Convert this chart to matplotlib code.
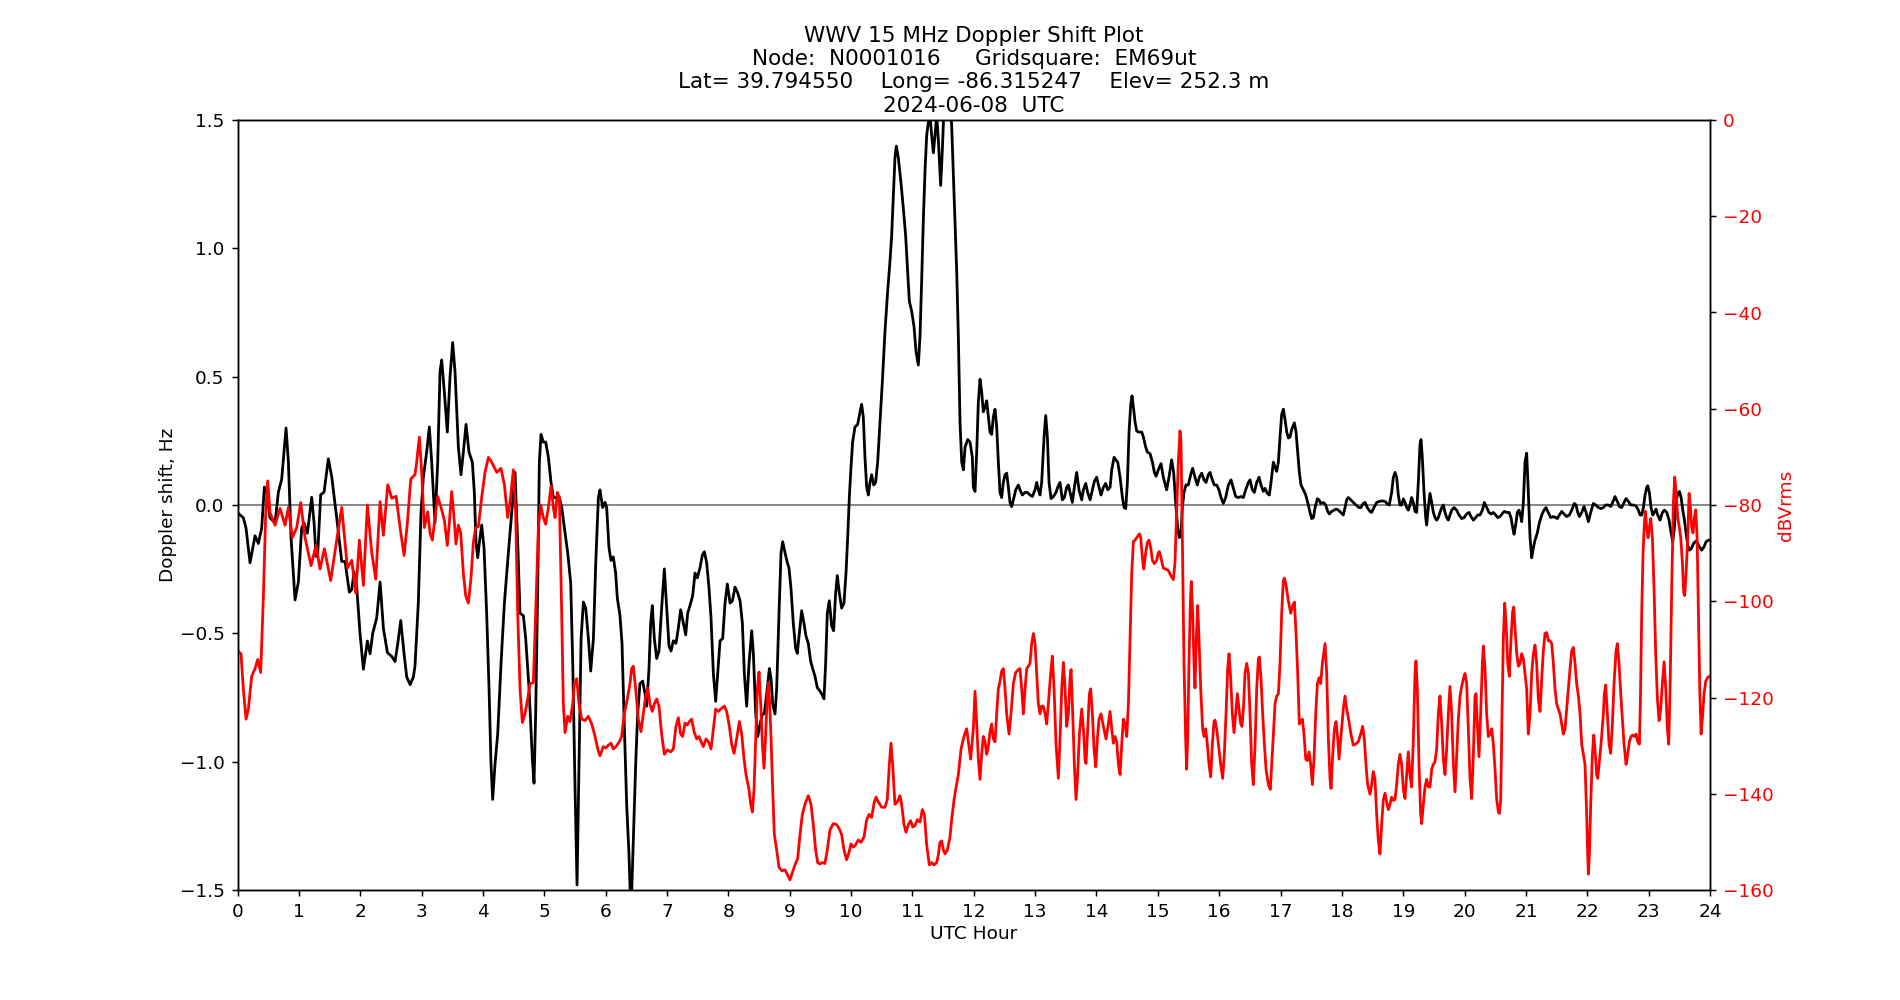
import matplotlib
matplotlib.use('Agg')
import matplotlib.pyplot as plt

# Doppler shift (UTC hour, Hz)
doppler = [
    (0.00, -0.03), (0.095, -0.05), (0.139, -0.09), (0.204, -0.225), (0.286, -0.12), (0.340, -0.15), (0.394, -0.09), (0.438, 0.07), (0.476, 0.05), (0.530, -0.05),
    (0.612, -0.07), (0.666, 0.05), (0.720, 0.10), (0.791, 0.30), (0.829, 0.17), (0.873, -0.13), (0.938, -0.37), (0.992, -0.30), (1.046, -0.09), (1.084, -0.07),
    (1.139, -0.11), (1.209, 0.03), (1.248, -0.07), (1.280, -0.20), (1.307, -0.19), (1.356, 0.04), (1.411, 0.05), (1.481, 0.18), (1.536, 0.11), (1.617, -0.05),
    (1.699, -0.22), (1.753, -0.22), (1.823, -0.34), (1.862, -0.33), (1.900, -0.26), (1.943, -0.32), (1.997, -0.50), (2.052, -0.64), (2.117, -0.53), (2.161, -0.58),
    (2.204, -0.50), (2.269, -0.44), (2.324, -0.30), (2.378, -0.48), (2.443, -0.575), (2.514, -0.59), (2.568, -0.61), (2.612, -0.54), (2.661, -0.45), (2.715, -0.58),
    (2.758, -0.67), (2.813, -0.70), (2.867, -0.67),
    (2.893, -0.627), (2.947, -0.382), (2.991, -0.029), (3.029, 0.108), (3.083, 0.206), (3.127, 0.304), (3.165, 0.167), (3.219, -0.069), (3.263, 0.167), (3.301, 0.520),
    (3.328, 0.565), (3.371, 0.441), (3.420, 0.284), (3.464, 0.500), (3.507, 0.633), (3.545, 0.520), (3.600, 0.225), (3.643, 0.118), (3.681, 0.206), (3.725, 0.314),
    (3.773, 0.206), (3.828, 0.167), (3.860, 0.049), (3.888, -0.147), (3.915, -0.206), (3.942, -0.147), (3.980, -0.078), (4.018, -0.167), (4.061, -0.422), (4.100, -0.716),
    (4.132, -1.010), (4.159, -1.147), (4.197, -1.010), (4.241, -0.892), (4.295, -0.618), (4.350, -0.382), (4.415, -0.186), (4.469, -0.029), (4.523, 0.127), (4.567, -0.147),
    (4.605, -0.422), (4.659, -0.431), (4.697, -0.520), (4.752, -0.716), (4.806, -0.990), (4.833, -1.084), (4.860, -0.814), (4.893, -0.324), (4.920, 0.167), (4.947, 0.275),
    (4.985, 0.245), (5.023, 0.245), (5.067, 0.186), (5.110, 0.088), (5.148, 0.029), (5.203, 0.029), (5.246, 0.029), (5.284, -0.010), (5.339, -0.108), (5.382, -0.186),
    (5.431, -0.304), (5.464, -0.618), (5.502, -1.108), (5.534, -1.480), (5.567, -1.010), (5.600, -0.520), (5.638, -0.378), (5.676, -0.402), (5.719, -0.520), (5.757, -0.647),
    (5.801, -0.520), (5.839, -0.225), (5.882, 0.029),
    (5.908, 0.059), (5.951, -0.010), (5.990, 0.010), (6.017, -0.010), (6.055, -0.167), (6.087, -0.216), (6.125, -0.202), (6.163, -0.265), (6.191, -0.363), (6.234, -0.431),
    (6.267, -0.539), (6.299, -0.814), (6.343, -1.167), (6.381, -1.363), (6.413, -1.60), (6.451, -1.304), (6.490, -1.010), (6.522, -0.814), (6.560, -0.696), (6.604, -0.686),
    (6.642, -0.735), (6.669, -0.784), (6.707, -0.637), (6.734, -0.461), (6.761, -0.392), (6.794, -0.520), (6.832, -0.598), (6.870, -0.569), (6.913, -0.402), (6.957, -0.249),
    (6.995, -0.402), (7.033, -0.549), (7.066, -0.569), (7.104, -0.529), (7.147, -0.539), (7.185, -0.480), (7.223, -0.408), (7.267, -0.461), (7.305, -0.506), (7.337, -0.422),
    (7.375, -0.392), (7.419, -0.353), (7.457, -0.265), (7.495, -0.284), (7.538, -0.245), (7.576, -0.196), (7.609, -0.182), (7.647, -0.225), (7.685, -0.324), (7.718, -0.441),
    (7.756, -0.657), (7.794, -0.765), (7.826, -0.657), (7.865, -0.529), (7.908, -0.520), (7.946, -0.382), (7.984, -0.308), (8.028, -0.382), (8.066, -0.373), (8.109, -0.320),
    (8.153, -0.343), (8.191, -0.373), (8.229, -0.461), (8.261, -0.657), (8.299, -0.784), (8.337, -0.618), (8.381, -0.490), (8.408, -0.578), (8.446, -0.814), (8.479, -0.902),
    (8.517, -0.853), (8.555, -0.814), (8.587, -0.814), (8.625, -0.735), (8.669, -0.637), (8.696, -0.676), (8.723, -0.775), (8.761, -0.814), (8.788, -0.716), (8.826, -0.422),
    (8.859, -0.186), (8.886, -0.143), (8.924, -0.186), (8.962, -0.225),
    (8.988, -0.245), (9.021, -0.324), (9.059, -0.461), (9.097, -0.559), (9.124, -0.578), (9.157, -0.500), (9.195, -0.412), (9.233, -0.461), (9.265, -0.510), (9.303, -0.539),
    (9.341, -0.608), (9.374, -0.637), (9.412, -0.667), (9.450, -0.712), (9.494, -0.725), (9.532, -0.741), (9.559, -0.755), (9.586, -0.618), (9.613, -0.422), (9.646, -0.373),
    (9.684, -0.471), (9.716, -0.490), (9.749, -0.343), (9.776, -0.275), (9.809, -0.343), (9.847, -0.402), (9.885, -0.382), (9.918, -0.265), (9.945, -0.127), (9.972, 0.029),
    (9.999, 0.147), (10.026, 0.245), (10.064, 0.304), (10.108, 0.314), (10.146, 0.363), (10.173, 0.392), (10.200, 0.343), (10.227, 0.186), (10.255, 0.069), (10.282, 0.039),
    (10.309, 0.088), (10.336, 0.118), (10.369, 0.078), (10.401, 0.088), (10.434, 0.167), (10.472, 0.324), (10.510, 0.480), (10.553, 0.676), (10.597, 0.833), (10.635, 0.951),
    (10.662, 1.049), (10.689, 1.206), (10.716, 1.353), (10.738, 1.398), (10.771, 1.353), (10.814, 1.255), (10.852, 1.157), (10.890, 1.049), (10.923, 0.912), (10.950, 0.794),
    (10.988, 0.755), (11.026, 0.696), (11.059, 0.598), (11.097, 0.545), (11.124, 0.657), (11.151, 0.873), (11.178, 1.108), (11.206, 1.304), (11.233, 1.441), (11.260, 1.490),
    (11.287, 1.52), (11.314, 1.441), (11.342, 1.372), (11.369, 1.441), (11.396, 1.52), (11.423, 1.422), (11.461, 1.245), (11.488, 1.382), (11.510, 1.52), (11.532, 1.56),
    (11.613, 1.56), (11.640, 1.480), (11.668, 1.284), (11.695, 1.088), (11.722, 0.912), (11.749, 0.657), (11.776, 0.324), (11.804, 0.167), (11.831, 0.137), (11.858, 0.225),
    (11.901, 0.255), (11.939, 0.245), (11.977, 0.186),
    (11.993, 0.069), (12.021, 0.053), (12.048, 0.206), (12.075, 0.402), (12.102, 0.490), (12.129, 0.441), (12.156, 0.363), (12.184, 0.382), (12.211, 0.406), (12.238, 0.343),
    (12.265, 0.284), (12.292, 0.275), (12.319, 0.343), (12.347, 0.373), (12.374, 0.304), (12.401, 0.167), (12.428, 0.049), (12.455, 0.029), (12.482, 0.088), (12.510, 0.118),
    (12.537, 0.124), (12.564, 0.069), (12.591, 0.010), (12.618, -0.006), (12.646, 0.020), (12.684, 0.059), (12.727, 0.078), (12.754, 0.059), (12.792, 0.039), (12.836, 0.049),
    (12.874, 0.049), (12.917, 0.039), (12.955, 0.033), (12.999, 0.059), (13.026, 0.088), (13.053, 0.059), (13.080, 0.039), (13.107, 0.088), (13.146, 0.265), (13.173, 0.349),
    (13.200, 0.265), (13.227, 0.088), (13.260, 0.025), (13.298, 0.033), (13.341, 0.049), (13.368, 0.069), (13.406, 0.088), (13.444, 0.020), (13.477, 0.029), (13.515, 0.069),
    (13.542, 0.078), (13.569, 0.049), (13.607, 0.010), (13.640, 0.069), (13.678, 0.127), (13.716, 0.059), (13.760, 0.020), (13.787, 0.059), (13.825, 0.084), (13.857, 0.049),
    (13.896, 0.020), (13.934, 0.059), (13.966, 0.092), (14.004, 0.108), (14.042, 0.069), (14.075, 0.039), (14.113, 0.069), (14.151, 0.084), (14.184, 0.059), (14.222, 0.069),
    (14.249, 0.137), (14.287, 0.186), (14.314, 0.176), (14.347, 0.167), (14.385, 0.108), (14.423, 0.029), (14.450, -0.010), (14.477, -0.014), (14.504, 0.088), (14.531, 0.284),
    (14.559, 0.392), (14.580, 0.425), (14.602, 0.382), (14.629, 0.324), (14.656, 0.288), (14.694, 0.284), (14.738, 0.284), (14.765, 0.265), (14.803, 0.225), (14.830, 0.206),
    (14.874, 0.200), (14.912, 0.167), (14.944, 0.127), (14.972, 0.112),
    (15.008, 0.137), (15.052, 0.161), (15.090, 0.108), (15.144, 0.059), (15.182, 0.108), (15.226, 0.176), (15.258, 0.127), (15.291, 0.010), (15.324, -0.088), (15.351, -0.127),
    (15.378, -0.108), (15.400, -0.010), (15.427, 0.049), (15.459, 0.078), (15.497, 0.078), (15.536, 0.118), (15.568, 0.143), (15.606, 0.108), (15.644, 0.078), (15.677, 0.108),
    (15.715, 0.124), (15.753, 0.098), (15.786, 0.088), (15.824, 0.118), (15.851, 0.127), (15.889, 0.098), (15.921, 0.078), (15.959, 0.078), (15.997, 0.059), (16.030, 0.029),
    (16.068, 0.006), (16.106, 0.029), (16.150, 0.078), (16.193, 0.098), (16.231, 0.065), (16.269, 0.033), (16.313, 0.029), (16.356, 0.033), (16.394, 0.029), (16.432, 0.059),
    (16.476, 0.088), (16.503, 0.098), (16.541, 0.059), (16.574, 0.049), (16.612, 0.088), (16.650, 0.108), (16.682, 0.078), (16.720, 0.053), (16.747, 0.065), (16.786, 0.045),
    (16.818, 0.039), (16.845, 0.088), (16.883, 0.167), (16.911, 0.147), (16.938, 0.131), (16.965, 0.167), (16.992, 0.265), (17.019, 0.353), (17.046, 0.373), (17.074, 0.333),
    (17.101, 0.284), (17.128, 0.261), (17.155, 0.265), (17.182, 0.294), (17.226, 0.320), (17.253, 0.284), (17.280, 0.206), (17.307, 0.127), (17.334, 0.078), (17.373, 0.059),
    (17.411, 0.039), (17.443, 0.010), (17.481, -0.029), (17.508, -0.053), (17.536, -0.049), (17.563, -0.010), (17.601, 0.024), (17.628, 0.020), (17.655, 0.006), (17.699, 0.010),
    (17.737, 0.000), (17.769, -0.025), (17.796, -0.035), (17.834, -0.025), (17.873, -0.020), (17.905, -0.016), (17.943, -0.020), (17.981, -0.029),
    (18.023, -0.039), (18.051, -0.010), (18.078, 0.020), (18.105, 0.029), (18.143, 0.020), (18.186, 0.010), (18.230, 0.000), (18.279, -0.010), (18.311, -0.010), (18.349, 0.006),
    (18.377, 0.010), (18.415, -0.010), (18.458, -0.025), (18.485, -0.029), (18.523, -0.010), (18.567, 0.010), (18.610, 0.014), (18.659, 0.016), (18.703, 0.014), (18.741, 0.004),
    (18.773, 0.000), (18.811, 0.049), (18.839, 0.108), (18.866, 0.127), (18.893, 0.108), (18.920, 0.039), (18.947, 0.000), (18.974, 0.000), (19.002, 0.024), (19.029, 0.010),
    (19.056, -0.010), (19.083, -0.020), (19.110, 0.000), (19.137, 0.029), (19.165, 0.010), (19.192, -0.025), (19.219, -0.029), (19.246, 0.088), (19.273, 0.235), (19.290, 0.255),
    (19.311, 0.186), (19.339, 0.049), (19.366, -0.049), (19.382, -0.078), (19.409, -0.010), (19.436, 0.045), (19.464, 0.010), (19.491, -0.029), (19.518, -0.049), (19.545, -0.059),
    (19.572, -0.049), (19.599, -0.029), (19.627, -0.010), (19.654, 0.000), (19.681, -0.029), (19.708, -0.049), (19.735, -0.059), (19.762, -0.039), (19.790, -0.020), (19.828, -0.010),
    (19.871, -0.020), (19.909, -0.039), (19.953, -0.053), (19.991, -0.049), (20.034, -0.035), (20.072, -0.029), (20.105, -0.045), (20.143, -0.059), (20.181, -0.049), (20.214, -0.039),
    (20.252, -0.039), (20.290, -0.020), (20.322, 0.010), (20.360, -0.010), (20.398, -0.029), (20.431, -0.035), (20.469, -0.029), (20.507, -0.039), (20.540, -0.049), (20.578, -0.045),
    (20.616, -0.033), (20.648, -0.025), (20.686, -0.029), (20.725, -0.029), (20.757, -0.049), (20.784, -0.088), (20.806, -0.114), (20.833, -0.078), (20.860, -0.029), (20.887, -0.020),
    (20.915, -0.045), (20.931, -0.065), (20.958, 0.010),
    (20.985, 0.167), (21.012, 0.202), (21.039, 0.049), (21.067, -0.127), (21.094, -0.206), (21.121, -0.167), (21.148, -0.137), (21.186, -0.108), (21.219, -0.069), (21.257, -0.039),
    (21.295, -0.020), (21.327, -0.010), (21.365, -0.029), (21.403, -0.049), (21.447, -0.045), (21.485, -0.049), (21.512, -0.053), (21.545, -0.039), (21.583, -0.025), (21.621, -0.035),
    (21.664, -0.045), (21.708, -0.039), (21.746, -0.020), (21.789, 0.006), (21.817, 0.000), (21.844, -0.029), (21.871, -0.045), (21.909, -0.029), (21.947, -0.006), (21.980, -0.029),
    (22.018, -0.065), (22.056, -0.029), (22.099, 0.006), (22.137, 0.000), (22.181, -0.010), (22.224, -0.014), (22.262, -0.010), (22.300, 0.000), (22.344, 0.000), (22.382, -0.006),
    (22.414, 0.010), (22.452, 0.033), (22.490, 0.014), (22.523, -0.006), (22.561, -0.010), (22.599, 0.010), (22.632, 0.025), (22.670, 0.014), (22.708, 0.000), (22.751, 0.000),
    (22.795, -0.004), (22.833, -0.020), (22.860, -0.039), (22.887, -0.039), (22.914, -0.010), (22.942, 0.039), (22.969, 0.069), (22.985, 0.075), (23.012, 0.049), (23.039, -0.010),
    (23.067, -0.039), (23.094, -0.029), (23.121, -0.016), (23.148, -0.039), (23.186, -0.059), (23.224, -0.029), (23.257, -0.020), (23.295, -0.029), (23.333, -0.059), (23.365, -0.108),
    (23.393, -0.143), (23.420, -0.088), (23.447, 0.010), (23.474, 0.045), (23.501, 0.053), (23.529, 0.029), (23.556, -0.020), (23.583, -0.059), (23.610, -0.108), (23.637, -0.157),
    (23.664, -0.176), (23.692, -0.171), (23.730, -0.151), (23.768, -0.141), (23.795, -0.147), (23.827, -0.163), (23.865, -0.176), (23.903, -0.163), (23.936, -0.143), (23.974, -0.137),
    (24.0, -0.137),
]

# received level (UTC hour, dBVrms)
level = [
    (0.00, -110.3), (0.057, -110.9), (0.095, -118.2), (0.139, -124.5), (0.177, -122.4), (0.231, -115.6), (0.286, -114.0), (0.329, -112.1), (0.378, -114.8), (0.421, -99.4),
    (0.460, -81.6), (0.492, -75.0), (0.530, -81.6), (0.612, -84.2), (0.693, -80.7), (0.775, -84.2), (0.829, -80.5), (0.894, -86.8), (0.965, -84.7), (1.030, -79.5),
    (1.101, -86.8), (1.199, -92.6), (1.280, -88.4), (1.345, -93.3), (1.416, -89.1), (1.519, -95.7), (1.617, -87.3), (1.699, -80.5), (1.791, -93.1), (1.862, -91.5),
    (1.927, -98.3), (1.987, -87.3), (2.052, -96.7), (2.117, -80.0), (2.188, -89.9), (2.253, -95.4), (2.324, -79.3), (2.378, -86.3), (2.449, -75.8), (2.514, -78.6),
    (2.585, -78.2), (2.650, -84.7), (2.715, -90.5), (2.769, -83.7), (2.824, -74.6),
    (2.893, -73.7), (2.920, -71.1), (2.964, -65.9), (3.002, -73.2), (3.045, -84.7), (3.100, -81.4), (3.138, -85.8), (3.176, -87.3), (3.219, -82.6), (3.263, -78.2),
    (3.317, -80.5), (3.371, -83.1), (3.420, -88.4), (3.453, -83.7), (3.491, -77.2), (3.529, -82.6), (3.561, -88.1), (3.600, -84.2), (3.638, -85.8), (3.681, -94.1),
    (3.719, -98.8), (3.763, -100.4), (3.806, -95.2), (3.844, -87.8), (3.882, -84.7), (3.926, -84.5), (3.980, -78.4), (4.034, -73.2), (4.089, -70.1), (4.143, -71.1),
    (4.225, -73.2), (4.295, -72.4), (4.350, -75.8), (4.404, -82.6), (4.442, -79.5), (4.496, -72.7), (4.534, -81.6), (4.567, -102.5), (4.605, -118.2), (4.643, -125.2),
    (4.686, -123.4), (4.730, -120.3), (4.768, -117.1), (4.822, -116.9), (4.860, -102.5), (4.904, -84.7), (4.942, -80.0), (4.985, -82.6), (5.023, -84.0), (5.067, -80.5),
    (5.110, -76.1), (5.148, -80.5), (5.176, -82.6), (5.214, -77.4), (5.246, -78.4), (5.284, -102.5), (5.311, -121.3), (5.339, -127.3), (5.382, -123.9), (5.420, -125.0),
    (5.464, -121.3), (5.491, -117.1), (5.529, -116.1), (5.567, -121.3), (5.610, -124.5), (5.665, -124.8), (5.719, -123.9), (5.773, -125.5), (5.828, -128.1), (5.871, -130.7),
    (5.908, -132.1), (5.962, -130.2), (6.006, -130.5), (6.044, -129.9), (6.087, -129.5), (6.125, -130.7), (6.169, -130.2), (6.223, -129.2), (6.261, -128.1), (6.305, -123.4),
    (6.354, -120.3), (6.397, -117.1), (6.424, -114.0), (6.451, -113.5), (6.490, -118.2), (6.533, -124.5), (6.576, -127.1), (6.615, -123.4), (6.653, -119.7), (6.685, -118.0),
    (6.723, -121.3), (6.761, -122.9), (6.794, -121.3), (6.832, -120.3), (6.870, -121.8), (6.913, -127.6), (6.957, -131.8), (7.006, -130.9), (7.060, -131.3), (7.104, -130.7),
    (7.147, -126.0), (7.185, -124.2), (7.223, -127.6), (7.256, -128.1), (7.294, -125.3), (7.332, -125.7), (7.365, -125.0), (7.403, -124.5), (7.441, -127.1), (7.484, -128.6),
    (7.522, -128.1), (7.555, -129.2), (7.593, -130.2), (7.636, -128.6), (7.674, -129.2), (7.718, -130.7), (7.756, -126.5), (7.794, -122.4), (7.837, -122.9), (7.875, -122.4),
    (7.935, -121.8), (7.973, -122.9), (8.017, -126.0), (8.055, -129.7), (8.093, -131.6), (8.136, -128.6), (8.180, -125.0), (8.218, -127.6), (8.256, -132.8), (8.288, -136.0),
    (8.337, -139.1), (8.365, -142.2), (8.392, -143.8), (8.419, -139.1), (8.451, -126.5), (8.473, -118.2), (8.500, -114.7), (8.528, -121.3), (8.555, -129.7), (8.582, -134.7),
    (8.609, -127.6), (8.636, -119.2), (8.658, -116.9), (8.691, -126.5), (8.723, -139.1), (8.750, -148.5), (8.788, -151.7), (8.826, -155.3), (8.870, -156.0),
    (8.923, -155.8), (8.966, -156.9), (9.005, -157.9), (9.043, -156.4), (9.086, -154.8), (9.130, -153.5), (9.168, -148.5), (9.206, -144.3), (9.249, -142.2), (9.303, -140.4),
    (9.347, -142.2), (9.385, -146.4), (9.423, -151.7), (9.456, -154.3), (9.494, -154.6), (9.532, -154.3), (9.575, -154.5), (9.613, -151.7), (9.657, -147.5), (9.711, -146.2),
    (9.765, -146.4), (9.809, -147.3), (9.847, -148.5), (9.885, -151.7), (9.928, -153.7), (9.966, -152.2), (9.999, -150.4), (10.037, -151.1), (10.075, -150.6), (10.119, -149.6),
    (10.162, -150.1), (10.211, -149.0), (10.255, -145.4), (10.293, -144.3), (10.336, -144.9), (10.374, -142.0), (10.407, -140.7), (10.445, -141.7), (10.499, -142.8), (10.553, -142.8),
    (10.591, -141.2), (10.624, -133.9), (10.651, -129.5), (10.678, -133.9), (10.716, -142.2), (10.755, -141.7), (10.798, -140.4), (10.825, -142.2), (10.863, -146.4), (10.896, -148.0),
    (10.934, -146.4), (10.972, -145.6), (11.005, -146.9), (11.043, -146.6), (11.081, -145.4), (11.124, -145.9), (11.162, -143.3), (11.195, -144.3), (11.233, -150.6), (11.276, -154.8),
    (11.314, -154.3), (11.352, -154.8), (11.396, -154.3), (11.423, -152.7), (11.450, -150.1), (11.477, -149.8), (11.505, -151.7), (11.532, -152.5), (11.570, -151.7), (11.613, -149.0),
    (11.640, -145.4), (11.679, -141.2), (11.706, -139.1), (11.749, -136.0), (11.793, -130.7), (11.831, -128.6), (11.858, -127.4), (11.885, -126.5), (11.912, -129.2), (11.950, -132.8),
    (11.993, -126.5), (12.021, -118.7), (12.048, -125.5), (12.075, -132.8), (12.102, -137.0), (12.129, -131.8), (12.156, -128.1), (12.184, -129.2), (12.211, -131.8), (12.238, -130.2),
    (12.265, -127.1), (12.292, -125.5), (12.319, -128.6), (12.347, -129.2), (12.374, -123.4), (12.401, -118.2), (12.428, -116.6), (12.455, -114.5), (12.482, -114.0), (12.510, -118.2),
    (12.537, -123.4), (12.575, -127.6), (12.607, -123.4), (12.646, -117.1), (12.684, -114.8), (12.727, -114.2), (12.754, -114.0), (12.781, -118.2), (12.809, -123.4), (12.836, -118.2),
    (12.863, -114.0), (12.890, -113.5), (12.917, -112.9), (12.944, -108.8), (12.972, -106.7), (12.999, -108.8), (13.026, -115.0), (13.053, -121.3), (13.080, -123.4), (13.107, -121.8),
    (13.135, -121.8), (13.162, -123.4), (13.189, -125.5), (13.216, -121.3), (13.254, -115.0), (13.281, -111.4), (13.309, -118.2), (13.341, -129.7), (13.379, -136.8), (13.406, -128.6),
    (13.434, -118.2), (13.461, -112.7), (13.488, -118.2), (13.515, -126.0), (13.542, -123.4), (13.569, -116.1), (13.586, -114.2), (13.613, -123.4), (13.640, -133.9), (13.667, -141.2),
    (13.694, -136.0), (13.722, -127.6), (13.760, -122.4), (13.787, -126.5), (13.814, -132.8), (13.830, -133.7), (13.857, -126.5), (13.885, -119.2), (13.906, -118.2), (13.934, -123.4),
    (13.961, -130.7), (13.988, -134.4), (14.015, -128.6), (14.042, -124.5), (14.075, -123.4), (14.113, -126.0), (14.156, -128.6), (14.194, -125.5), (14.222, -122.9), (14.249, -126.5),
    (14.276, -129.5), (14.303, -128.1), (14.330, -129.2), (14.358, -133.9), (14.385, -136.0), (14.412, -129.7), (14.439, -124.5), (14.466, -125.5), (14.493, -128.1), (14.521, -121.3),
    (14.548, -107.7), (14.575, -94.1), (14.602, -87.6), (14.629, -87.3), (14.656, -86.8), (14.684, -86.3), (14.700, -86.0), (14.722, -86.8), (14.749, -91.0), (14.771, -93.3),
    (14.803, -89.9), (14.830, -87.8), (14.857, -87.3), (14.885, -88.9), (14.912, -91.5), (14.944, -92.2),
    (14.981, -91.5), (15.008, -89.9), (15.025, -89.7), (15.052, -91.0), (15.090, -93.1), (15.128, -93.3), (15.171, -93.6), (15.209, -94.6), (15.253, -95.5), (15.280, -92.0),
    (15.307, -81.6), (15.334, -71.1), (15.362, -64.6), (15.378, -66.9), (15.400, -86.8), (15.427, -112.9), (15.454, -128.6), (15.470, -134.9), (15.487, -128.6), (15.508, -112.9),
    (15.530, -100.4), (15.546, -95.9), (15.568, -102.5), (15.590, -112.9), (15.606, -118.0), (15.628, -107.7), (15.650, -100.9), (15.671, -107.7), (15.699, -118.2), (15.731, -126.5),
    (15.753, -128.1), (15.780, -126.5), (15.807, -129.7), (15.834, -133.9), (15.862, -136.5), (15.889, -129.7), (15.916, -125.0), (15.932, -124.7), (15.959, -126.5), (15.987, -129.7),
    (16.025, -133.9), (16.057, -136.8), (16.084, -131.8), (16.112, -123.4), (16.139, -114.0), (16.161, -110.9), (16.188, -116.1), (16.215, -123.4), (16.242, -127.3), (16.269, -123.4),
    (16.296, -119.2), (16.324, -122.4), (16.351, -125.5), (16.373, -126.0), (16.400, -121.3), (16.421, -115.0), (16.449, -112.9), (16.476, -115.0), (16.503, -123.4), (16.530, -133.9),
    (16.557, -138.1), (16.585, -129.7), (16.612, -118.2), (16.639, -111.9), (16.655, -111.6), (16.682, -116.1), (16.709, -123.4), (16.737, -129.7), (16.764, -134.9), (16.802, -138.1),
    (16.834, -139.1), (16.856, -133.9), (16.883, -127.6), (16.911, -121.3), (16.938, -119.7), (16.965, -119.2), (16.992, -112.9), (17.019, -102.5), (17.046, -95.7), (17.063, -95.2),
    (17.090, -96.7), (17.128, -99.9), (17.166, -102.5), (17.199, -100.9), (17.226, -100.2), (17.253, -106.7), (17.280, -115.0), (17.307, -125.5), (17.334, -125.0), (17.356, -124.5),
    (17.383, -127.6), (17.411, -132.8), (17.438, -133.1), (17.465, -131.3), (17.492, -133.9), (17.519, -138.1), (17.546, -132.8), (17.574, -123.4), (17.601, -117.1), (17.628, -115.9),
    (17.655, -117.1), (17.682, -112.9), (17.710, -110.3), (17.726, -108.8), (17.753, -115.0), (17.780, -128.6), (17.807, -137.0), (17.824, -138.9), (17.851, -131.8), (17.878, -126.5),
    (17.905, -125.0), (17.932, -128.6), (17.954, -132.8),
    (17.996, -126.5), (18.023, -122.4), (18.051, -119.7), (18.078, -122.4), (18.116, -125.0), (18.148, -127.6), (18.186, -129.9), (18.224, -129.7), (18.268, -129.2), (18.306, -127.6),
    (18.339, -126.0), (18.366, -128.6), (18.393, -133.9), (18.420, -138.1), (18.458, -140.1), (18.485, -138.1), (18.512, -135.4), (18.540, -137.0), (18.567, -144.3), (18.594, -149.6),
    (18.621, -152.5), (18.648, -146.4), (18.676, -141.2), (18.703, -139.9), (18.730, -141.7), (18.757, -143.3), (18.784, -142.2), (18.811, -140.7), (18.839, -141.4), (18.866, -141.2),
    (18.893, -138.1), (18.920, -133.9), (18.947, -131.8), (18.974, -133.9), (19.002, -139.1), (19.029, -141.0), (19.056, -136.0), (19.083, -131.3), (19.110, -136.0), (19.137, -138.6),
    (19.165, -128.6), (19.192, -115.0), (19.208, -112.4), (19.230, -118.2), (19.257, -133.9), (19.284, -144.3), (19.301, -146.2), (19.328, -142.2), (19.355, -138.6), (19.382, -137.0),
    (19.409, -138.6), (19.436, -138.6), (19.464, -134.9), (19.491, -133.9), (19.518, -133.3), (19.545, -130.7), (19.572, -123.4), (19.599, -119.7), (19.627, -125.5), (19.654, -132.8),
    (19.681, -136.0), (19.708, -130.7), (19.735, -123.4), (19.762, -117.7), (19.790, -123.4), (19.817, -133.9), (19.844, -139.6), (19.871, -131.8), (19.898, -124.5), (19.926, -119.7),
    (19.953, -117.7), (19.980, -116.1), (20.007, -115.0), (20.034, -117.1), (20.061, -126.5), (20.089, -137.0), (20.116, -141.0), (20.143, -131.8), (20.170, -119.7), (20.186, -119.2),
    (20.208, -125.5), (20.235, -132.3), (20.262, -123.4), (20.290, -112.9), (20.306, -109.3), (20.333, -114.0), (20.360, -123.4), (20.387, -128.1), (20.415, -127.6), (20.442, -126.5),
    (20.469, -129.7), (20.496, -134.9), (20.523, -141.2), (20.551, -143.8), (20.567, -144.1), (20.589, -141.2), (20.610, -123.4), (20.632, -107.7), (20.654, -100.4), (20.676, -104.6),
    (20.703, -112.9), (20.730, -115.6), (20.757, -107.7), (20.784, -102.0), (20.801, -101.2), (20.822, -105.6), (20.850, -110.9), (20.877, -113.5), (20.904, -112.9), (20.931, -110.9),
    (20.958, -111.9),
    (21.012, -118.2), (21.039, -127.6), (21.067, -123.4), (21.094, -115.0), (21.121, -110.9), (21.148, -109.1), (21.175, -112.9), (21.202, -120.3), (21.230, -122.9), (21.257, -116.1),
    (21.284, -110.3), (21.311, -106.7), (21.338, -106.5), (21.365, -108.2), (21.393, -108.2), (21.420, -108.8), (21.447, -112.9), (21.474, -118.2), (21.501, -121.3), (21.528, -122.4),
    (21.556, -123.4), (21.583, -125.5), (21.610, -127.6), (21.637, -126.5), (21.664, -122.4), (21.692, -118.2), (21.719, -114.0), (21.746, -110.3), (21.773, -109.6), (21.800, -112.9),
    (21.827, -117.1), (21.855, -119.7), (21.882, -123.4), (21.909, -129.7), (21.936, -131.8), (21.963, -133.9), (21.990, -144.3), (22.007, -152.7), (22.018, -156.7), (22.034, -152.7),
    (22.056, -142.2), (22.083, -131.8), (22.105, -127.8), (22.126, -130.7), (22.153, -136.0), (22.170, -136.8), (22.192, -133.9), (22.224, -129.7), (22.262, -123.4), (22.278, -119.2),
    (22.300, -117.4), (22.327, -123.4), (22.355, -129.7), (22.382, -131.6), (22.409, -125.5), (22.436, -117.1), (22.469, -110.3), (22.490, -108.8), (22.518, -112.9), (22.545, -119.2),
    (22.572, -124.5), (22.599, -129.7), (22.632, -133.9), (22.659, -131.8), (22.686, -129.2), (22.713, -128.1), (22.740, -127.8), (22.768, -128.1), (22.795, -127.6), (22.822, -129.2),
    (22.849, -129.7), (22.865, -121.3), (22.887, -102.5), (22.909, -89.9), (22.931, -83.7), (22.947, -81.3), (22.969, -84.7), (22.990, -86.8), (23.012, -84.7), (23.034, -82.8),
    (23.061, -86.8), (23.088, -97.3), (23.115, -110.9), (23.143, -120.3), (23.170, -124.8), (23.197, -122.4), (23.224, -117.1), (23.252, -112.6), (23.279, -118.2), (23.306, -126.5),
    (23.327, -129.7), (23.349, -118.2), (23.376, -97.3), (23.403, -79.5), (23.425, -74.2), (23.447, -77.4), (23.474, -82.6), (23.501, -84.7), (23.523, -86.8), (23.550, -92.0),
    (23.572, -98.3), (23.588, -98.8), (23.610, -94.1), (23.637, -86.8), (23.659, -77.6), (23.681, -80.5), (23.702, -84.7), (23.724, -85.8), (23.746, -82.6), (23.768, -81.0),
    (23.790, -86.8), (23.811, -102.5), (23.833, -118.2), (23.855, -127.6), (23.882, -123.4), (23.903, -119.2), (23.931, -116.6), (23.963, -115.8), (24.0, -115.6),
]

hour_ticks = list(range(0, 25))
db_ticks = [0, -20, -40, -60, -80, -100, -120, -140, -160]

title = ('WWV 15 MHz Doppler Shift Plot\n'
         'Node:  N0001016     Gridsquare:  EM69ut\n'
         'Lat= 39.794550    Long= -86.315247    Elev= 252.3 m\n'
         '2024-06-08  UTC')

# 14.25 x 7.5 in at 133.33 dpi -> 1900 x 1000 px, default font sizes
fig, ax = plt.subplots(figsize=(14.25, 7.5), dpi=400 / 3)

hrs, hz = zip(*doppler)
ax.axhline(0, color='grey', lw=1)
ax.plot(hrs, hz, color='black', lw=1.5)
ax.set_xlim(0, 24)
ax.set_ylim(-1.5, 1.5)
ax.set_xticks(hour_ticks)
ax.set_xlabel('UTC Hour', labelpad=2)
ax.set_ylabel('Doppler shift, Hz', labelpad=1.5)
ax.set_title(title, fontsize=11.6, pad=4.5)

ax2 = ax.twinx()
hrs2, db = zip(*level)
ax2.plot(hrs2, db, color='red', lw=1.5)
ax2.set_ylim(-160, 0)
ax2.set_yticks(db_ticks)
ax2.set_ylabel('dBVrms', color='red', labelpad=1.5)
ax2.tick_params(axis='y', labelcolor='red')

fig.savefig('out.png', dpi=400 / 3)
